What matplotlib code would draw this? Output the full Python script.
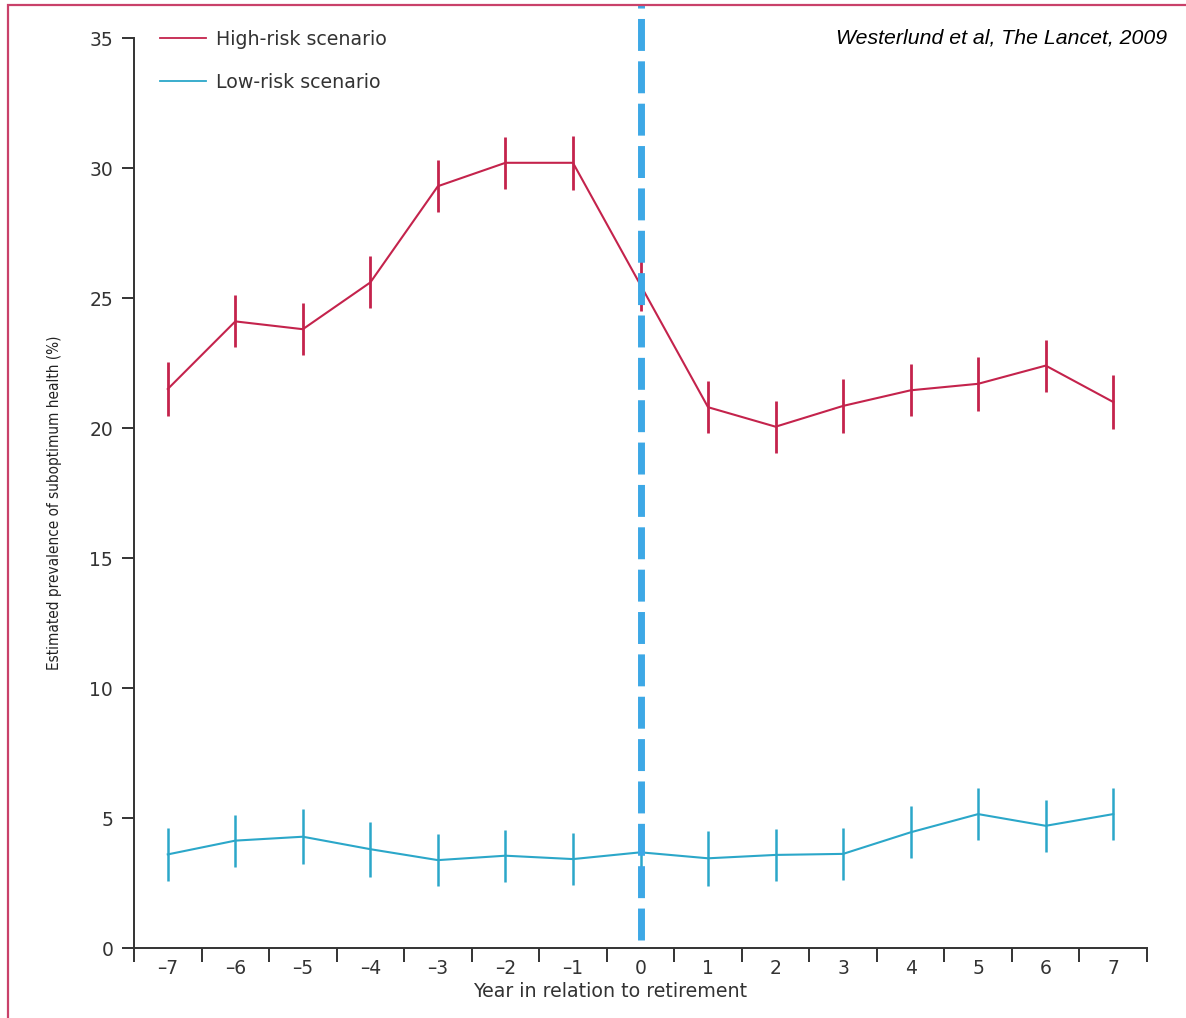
import matplotlib
matplotlib.use("Agg")
import matplotlib.pyplot as plt
from matplotlib.patches import Rectangle
from matplotlib.lines import Line2D

years = [-7, -6, -5, -4, -3, -2, -1, 0, 1, 2, 3, 4, 5, 6, 7]
year_labels = ["–7", "–6", "–5", "–4", "–3", "–2", "–1", "0", "1", "2", "3", "4", "5", "6", "7"]
high_risk = [21.5, 24.1, 23.8, 25.6, 29.3, 30.2, 30.2, 25.5, 20.8, 20.05, 20.85, 21.45, 21.7, 22.4, 21.0]
high_err = [1.05, 1.0, 1.0, 1.0, 1.0, 1.0, 1.05, 1.0, 1.0, 1.0, 1.05, 1.0, 1.05, 1.0, 1.05]
low_risk = [3.6, 4.13, 4.28, 3.8, 3.38, 3.55, 3.42, 3.68, 3.45, 3.58, 3.62, 4.45, 5.15, 4.7, 5.15]
low_err = [1.03, 1.0, 1.05, 1.05, 1.0, 1.0, 1.0, 1.0, 1.05, 1.0, 1.0, 1.0, 1.0, 1.0, 1.0]
y_ticks = [0, 5, 10, 15, 20, 25, 30, 35]
retirement_year = 0

HIGH_C = "#c4234c"
LOW_C = "#2ba7c9"
TXT_C = "#333333"
SPINE_C = "#333333"
MAIN_FONT = ["DejaVu Sans"]

W, H = 1186, 1018
fig = plt.figure(figsize=(W / 100, H / 100), dpi=100)
ax = fig.add_axes([134 / W, 1 - 948 / H, (1147 - 134) / W, (948 - 38) / H])

ax.errorbar(years, high_risk, yerr=high_err, color=HIGH_C, lw=1.5, elinewidth=2.0,
            capsize=0, zorder=3)
ax.errorbar(years, low_risk, yerr=low_err, color=LOW_C, lw=1.5, elinewidth=1.8,
            capsize=0, zorder=3)

ax.axvline(retirement_year, ymin=0.009, ymax=(948 - 5) / 910, color="#3da8e6", lw=5.0,
           dashes=(4.6, 1.5), clip_on=False, zorder=4)

ax.set_xlim(-7.5, 7.5)
ax.set_ylim(0, 35)

for s in ["top", "right"]:
    ax.spines[s].set_visible(False)
for s in ["left", "bottom"]:
    ax.spines[s].set_color(SPINE_C)
    ax.spines[s].set_linewidth(1.4)

tick_font = dict(family=MAIN_FONT, size=13.5, color=TXT_C)
ax.set_yticks(y_ticks)
ax.set_yticklabels([str(v) for v in y_ticks], **tick_font)
ax.tick_params(axis="y", direction="out", length=9, width=1.4, color=SPINE_C, pad=6)

half = [v + 0.5 for v in range(-8, 8)]
ax.set_xticks(half)
ax.set_xticklabels([""] * len(half))
ax.tick_params(axis="x", which="major", direction="out", length=10, width=1.4, color=SPINE_C)
ax.set_xticks(years, minor=True)
ax.set_xticklabels(year_labels, minor=True, **tick_font)
ax.tick_params(axis="x", which="minor", length=0, pad=8)

ax.set_xlabel("Year in relation to retirement", family=MAIN_FONT,
              size=13.7, color=TXT_C)
ax.xaxis.set_label_coords((610 - 134) / (1147 - 134), -(982 - 948) / 910)
ax.set_ylabel("Estimated prevalence of suboptimum health (%)",
              family=["DejaVu Sans"], fontstretch="condensed", size=11, color="#222222")
ax.yaxis.set_label_coords(-(134 - 62) / (1147 - 134), (948 - 503) / 910)

handles = [Line2D([], [], color=HIGH_C, lw=1.3), Line2D([], [], color=LOW_C, lw=1.3)]
leg = ax.legend(handles, ["High-risk scenario", "Low-risk scenario"],
                loc="upper left", bbox_to_anchor=(160 / W, 1 - 30 / H),
                bbox_transform=fig.transFigure, frameon=False, handlelength=2.4,
                handletextpad=0.55, labelspacing=1.26, borderpad=0, borderaxespad=0,
                prop=dict(family=MAIN_FONT, size=13.7))
for t in leg.get_texts():
    t.set_color(TXT_C)

fig.text(1167 / W, 1 - 38 / H, "Westerlund et al, The Lancet, 2009", ha="right", va="center",
         family=["Liberation Sans", "DejaVu Sans"], style="italic", size=15.3, color="black")

fig.patches.append(Rectangle((8 / W, -0.2), 2.0, 1.2 - 5 / H, transform=fig.transFigure,
                             fill=False, edgecolor="#c9416a", lw=1.6, clip_on=False))

fig.savefig("out.png", dpi=100)
